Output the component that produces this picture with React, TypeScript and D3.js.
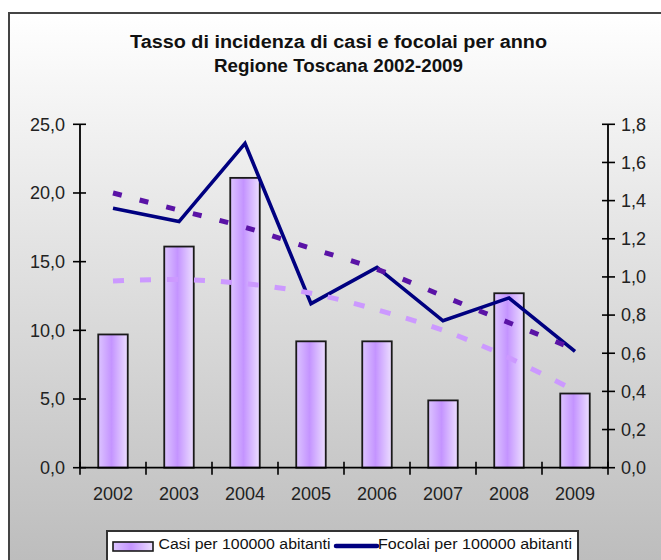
import React from "react";
import * as d3 from "d3";

const years = ["2002", "2003", "2004", "2005", "2006", "2007", "2008", "2009"];
const casi = [9.7, 16.1, 21.1, 9.2, 9.2, 4.9, 12.7, 5.4];
const focolai = [1.36, 1.29, 1.7, 0.86, 1.05, 0.77, 0.89, 0.61];
const casiTrend = [13.6, 13.7, 13.4, 12.7, 11.5, 10.0, 8.0, 5.6];
const focolaiTrend = [1.44, 1.35, 1.26, 1.15, 1.04, 0.9, 0.76, 0.62];
const leftTicks = [0, 5, 10, 15, 20, 25];
const rightTicks = [0, 0.2, 0.4, 0.6, 0.8, 1.0, 1.2, 1.4, 1.6, 1.8];
const titleLines = ["Tasso di incidenza di casi e focolai per anno", "Regione Toscana 2002-2009"];
const legendLabels = ["Casi per 100000 abitanti", "Focolai per 100000 abitanti"];

const W = 661;
const H = 560;
const L = 80;
const R = 608;
const TOP = 124.3;
const BOT = 467.7;
const FONT = "'Liberation Sans', Arial, sans-serif";

export default function App() {
  const x = d3.scaleBand<string>().domain(years).range([L, R]).paddingInner(0).paddingOuter(0);
  const yL = d3.scaleLinear().domain([0, 25]).range([BOT, TOP]);
  const yR = d3.scaleLinear().domain([0, 1.8]).range([BOT, TOP]);
  const bw = 29.5;
  const cx = (i: number) => (x(years[i]) as number) + x.bandwidth() / 2;

  const line = d3.line<number>().x((_, i) => cx(i)).y((d) => yR(d));
  const trendL = d3.line<number>().x((_, i) => cx(i)).y((d) => yL(d)).curve(d3.curveNatural);
  const trendR = d3.line<number>().x((_, i) => cx(i)).y((d) => yR(d)).curve(d3.curveNatural);
  const fmt = (v: number, p: number) => v.toFixed(p).replace(".", ",");
  const boundaries = d3.range(years.length + 1).map((i) => L + i * x.bandwidth());

  return (
    <svg width={W} height={H} style={{ position: "absolute", left: 0, top: 0 }} fontFamily={FONT}>
      <defs>
        <linearGradient id="bg" x1="0" y1="0" x2="0" y2="1" gradientUnits="userSpaceOnUse"
          {...{ x1: 0, y1: 13, x2: 0, y2: 560 }}>
          <stop offset="0" stopColor="#ffffff" />
          <stop offset="1" stopColor="#bdbdbd" />
        </linearGradient>
        <linearGradient id="bar" x1="0" y1="0" x2="1" y2="0">
          <stop offset="0" stopColor="#dcc4ff" />
          <stop offset="0.45" stopColor="#c494ff" />
          <stop offset="1" stopColor="#ecdeff" />
        </linearGradient>
      </defs>
      <rect x={0} y={0} width={W} height={H} fill="#ffffff" />
      <rect x={9} y={13} width={720} height={620} fill="url(#bg)" stroke="#444" strokeWidth={2} />

      {titleLines.map((t, i) => (
        <text key={t} x={338.5} y={47.5 + i * 24.6} textAnchor="middle" fontSize={17.5}
          fontWeight="bold" fill="#111" textLength={i === 0 ? 417 : 249} lengthAdjust="spacingAndGlyphs">
          {t}
        </text>
      ))}

      {/* bars */}
      {casi.map((v, i) => (
        <rect key={i} x={cx(i) - bw / 2} y={yL(v)} width={bw} height={BOT - yL(v)}
          fill="url(#bar)" stroke="#1a1a1a" strokeWidth={1.8} />
      ))}

      {/* axes */}
      <line x1={L} x2={L} y1={TOP} y2={BOT} stroke="#000" strokeWidth={1.8} />
      <line x1={R} x2={R} y1={TOP} y2={BOT} stroke="#000" strokeWidth={1.8} />
      <line x1={L} x2={R} y1={BOT} y2={BOT} stroke="#000" strokeWidth={1.8} />
      {leftTicks.map((t) => (
        <g key={"l" + t}>
          <line x1={L - 7} x2={L + 6} y1={yL(t)} y2={yL(t)} stroke="#000" strokeWidth={1.6} />
          <text x={65} y={yL(t)} dy="0.35em" textAnchor="end" fontSize={18} fill="#222">
            {fmt(t, 1)}
          </text>
        </g>
      ))}
      {rightTicks.map((t) => (
        <g key={"r" + t}>
          <line x1={R - 6} x2={R + 7} y1={yR(t)} y2={yR(t)} stroke="#000" strokeWidth={1.6} />
          <text x={621} y={yR(t)} dy="0.35em" textAnchor="start" fontSize={18} fill="#222">
            {fmt(t, 1)}
          </text>
        </g>
      ))}
      {boundaries.map((b, i) => (
        <line key={"b" + i} x1={b} x2={b} y1={BOT - 6} y2={BOT + 7} stroke="#000" strokeWidth={1.6} />
      ))}
      {years.map((yr, i) => (
        <text key={yr} x={cx(i)} y={500} textAnchor="middle" fontSize={18} fill="#222">
          {yr}
        </text>
      ))}

      {/* line series */}
      <path d={line(focolai) || ""} fill="none" stroke="#000080" strokeWidth={3.6} strokeLinejoin="miter" />

      {/* trend lines */}
      <path d={trendL(casiTrend) || ""} fill="none" stroke="#cc99ff" strokeWidth={5} strokeDasharray="11 16" />
      <path d={trendR(focolaiTrend) || ""} fill="none" stroke="#5a13a6" strokeWidth={5} strokeDasharray="9 18.5" />

      {/* legend */}
      <rect x={107} y={531} width={471} height={45} fill="#ffffff" stroke="#333" strokeWidth={2} />
      <rect x={113} y={542} width={40} height={9} fill="url(#bar)" stroke="#1a1a1a" strokeWidth={1.6} />
      <text x={158.5} y={548.5} fontSize={15.5} fill="#111" textLength={172} lengthAdjust="spacingAndGlyphs">
        {legendLabels[0]}
      </text>
      <line x1={336} x2={377} y1={546} y2={546} stroke="#000080" strokeWidth={4.5} strokeLinecap="round" />
      <text x={378} y={548.5} fontSize={15.5} fill="#111" textLength={194} lengthAdjust="spacingAndGlyphs">
        {legendLabels[1]}
      </text>
    </svg>
  );
}
